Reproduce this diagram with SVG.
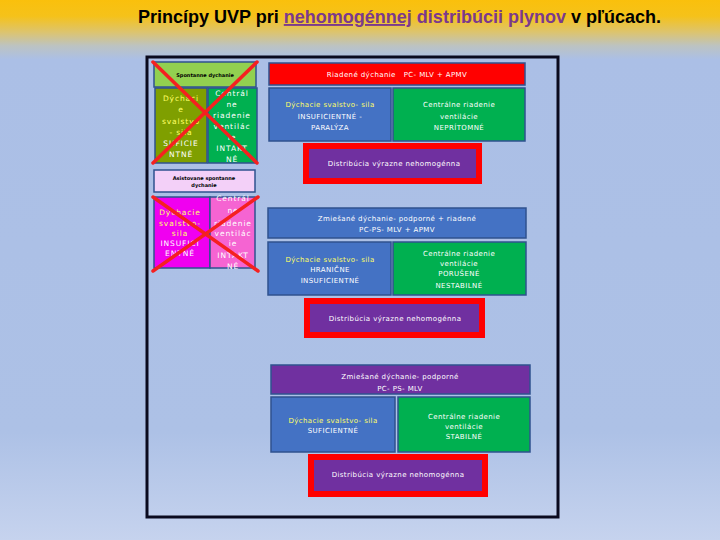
<svg xmlns="http://www.w3.org/2000/svg" width="720" height="540" viewBox="0 0 720 540">
<defs>
<linearGradient id="bg" gradientUnits="userSpaceOnUse" x1="0" y1="0" x2="0" y2="540">
<stop offset="0" stop-color="#FAC00C"/>
<stop offset="0.03" stop-color="#F5C21A"/>
<stop offset="0.06" stop-color="#DCC470"/>
<stop offset="0.085" stop-color="#BCC3C2"/>
<stop offset="0.11" stop-color="#ABBFE6"/>
<stop offset="0.8" stop-color="#ADC1E6"/>
<stop offset="1" stop-color="#C6D3EE"/>
</linearGradient>
<style>
.bx{stroke:#2F528F;stroke-width:1.5}
.red{fill:#FF0000}.blue{fill:#4472C4}.green{fill:#00B050}.purple{fill:#7030A0}
.dist{fill:#7030A0;stroke:#FF0000;stroke-width:6}
.t{font-family:"DejaVu Sans",Verdana,sans-serif;font-size:7px;fill:#FFFFFF;text-anchor:middle;letter-spacing:0.4px}
.tl{font-family:"DejaVu Sans",Verdana,sans-serif;font-size:7.5px;fill:#FFFFFF;text-anchor:middle;letter-spacing:0.9px}
.y{fill:#FFFF66}
.sm{font-family:"DejaVu Sans",Verdana,sans-serif;font-size:5px;font-weight:bold;fill:#000000;text-anchor:middle}
.x{stroke:#F52020;stroke-width:3.5;stroke-linecap:round;fill:none}
</style>
</defs>
<rect x="0" y="0" width="720" height="540" fill="url(#bg)"/>
<text x="138" y="23" textLength="523" lengthAdjust="spacingAndGlyphs" font-family="'Liberation Sans Narrow','Liberation Sans',Arial,sans-serif" font-size="19" font-weight="bold" fill="#000000">Princípy UVP pri <tspan fill="#7B3A8C" text-decoration="underline">nehomogénnej</tspan> <tspan fill="#7B3A8C">distribúcii plynov</tspan> v pľúcach.</text>
<rect id="frame" x="147" y="57" width="411" height="460" fill="none" stroke="#0A0A1E" stroke-width="3"/>

<g id="spontanne">
<rect class="bx" x="154" y="62" width="102" height="25" fill="#92D050"/>
<text class="sm" x="205" y="76.5">Spontanne dychanie</text>
</g>
<g id="spont-svalstvo">
<rect class="bx" x="155" y="88" width="52" height="75" fill="#7F9F00"/>
<text class="tl" x="181"><tspan class="y" x="181" y="101">Dýchaci</tspan><tspan class="y" x="181" y="112">e</tspan><tspan class="y" x="181" y="124">svalstvo</tspan><tspan class="y" x="181" y="135">- sila</tspan><tspan x="181" y="146">SUFICIE</tspan><tspan x="181" y="157">NTNÉ</tspan></text>
</g>
<g id="spont-centralne">
<rect class="bx" x="208" y="88" width="49" height="75" fill="#00B050"/>
<text class="tl" x="232"><tspan x="232" y="96">Centrál</tspan><tspan x="232" y="107">ne</tspan><tspan x="232" y="118">riadenie</tspan><tspan x="232" y="129">ventilác</tspan><tspan x="232" y="140">ie</tspan><tspan x="232" y="151">INTAKT</tspan><tspan x="232" y="162">NÉ</tspan></text>
</g>
<g id="cross1">
<line class="x" x1="153" y1="62" x2="257" y2="163"/>
<line class="x" x1="257" y1="62" x2="153" y2="163"/>
</g>

<g id="asistovane">
<rect class="bx" x="154" y="170" width="101" height="22" fill="#F3D0F8"/>
<text class="sm" x="204"><tspan x="204" y="180">Asistovane spontanne</tspan><tspan x="204" y="187">dychanie</tspan></text>
</g>
<g id="asist-svalstvo">
<rect class="bx" x="154" y="197" width="56" height="71" fill="#F000F0"/>
<text class="tl" x="180"><tspan class="y" x="180" y="215">Dýchacie</tspan><tspan class="y" x="180" y="226">svalstvo-</tspan><tspan class="y" x="180" y="236">sila</tspan><tspan x="180" y="246">INSUFICI</tspan><tspan x="180" y="256">ENTNÉ</tspan></text>
</g>
<g id="asist-centralne">
<rect class="bx" x="210" y="197" width="45" height="71" fill="#F564D2"/>
<text class="tl" x="233"><tspan x="233" y="201">Centrál</tspan><tspan x="233" y="213">ne</tspan><tspan x="233" y="226">riadenie</tspan><tspan x="233" y="236">ventilác</tspan><tspan x="233" y="246">ie</tspan><tspan x="233" y="258">INTAKT</tspan><tspan x="233" y="269">NÉ</tspan></text>
</g>
<g id="cross2">
<line class="x" x1="153" y1="197" x2="258" y2="271"/>
<line class="x" x1="258" y1="197" x2="153" y2="271"/>
</g>

<g id="riadene">
<rect class="bx red" x="269" y="63" width="256" height="22"/>
<text class="t" x="397" y="76.5" xml:space="preserve">Riadené dýchanie   PC- MLV + APMV</text>
</g>
<g id="riad-svalstvo">
<rect class="bx blue" x="269" y="88" width="122" height="53"/>
<text class="t" x="330"><tspan class="y" x="330" y="106.5">Dýchacie svalstvo- sila</tspan><tspan x="330" y="119">INSUFICIENTNÉ -</tspan><tspan x="330" y="130">PARALÝZA</tspan></text>
</g>
<g id="riad-centralne">
<rect class="bx green" x="393" y="88" width="132" height="53"/>
<text class="t" x="459"><tspan x="459" y="106.5">Centrálne riadenie</tspan><tspan x="459" y="118.5">ventilácie</tspan><tspan x="459" y="130">NEPRÍTOMNÉ</tspan></text>
</g>
<g id="riad-distribucia">
<rect class="dist" x="306" y="146" width="173" height="35"/>
<text class="t" x="394" y="166">Distribúcia výrazne nehomogénna</text>
</g>

<g id="zmiesane1">
<rect class="bx blue" x="268" y="208" width="258" height="30"/>
<text class="t" x="397"><tspan x="397" y="221">Zmiešané dýchanie- podporné + riadené</tspan><tspan x="397" y="231.5">PC-PS- MLV + APMV</tspan></text>
</g>
<g id="zm1-svalstvo">
<rect class="bx blue" x="268" y="242" width="123" height="53"/>
<text class="t" x="330"><tspan class="y" x="330" y="261.5">Dýchacie svalstvo- sila</tspan><tspan x="330" y="271.5">HRANIČNE</tspan><tspan x="330" y="282.5">INSUFICIENTNÉ</tspan></text>
</g>
<g id="zm1-centralne">
<rect class="bx green" x="393" y="242" width="133" height="53"/>
<text class="t" x="459"><tspan x="459" y="255.5">Centrálne riadenie</tspan><tspan x="459" y="265.5">ventilácie</tspan><tspan x="459" y="275.5">PORUŠENÉ</tspan><tspan x="459" y="287.5">NESTABILNÉ</tspan></text>
</g>
<g id="zm1-distribucia">
<rect class="dist" x="307" y="301" width="175" height="34"/>
<text class="t" x="395" y="320.5">Distribúcia výrazne nehomogénna</text>
</g>

<g id="zmiesane2">
<rect class="bx purple" x="271" y="365" width="259" height="29"/>
<text class="t" x="400"><tspan x="400" y="378.5">Zmiešané dýchanie- podporné</tspan><tspan x="400" y="390.5">PC- PS- MLV</tspan></text>
</g>
<g id="zm2-svalstvo">
<rect class="bx blue" x="271" y="397" width="124" height="55"/>
<text class="t" x="333"><tspan class="y" x="333" y="422.5">Dýchacie svalstvo- sila</tspan><tspan x="333" y="432.5">SUFICIENTNÉ</tspan></text>
</g>
<g id="zm2-centralne">
<rect class="bx green" x="398" y="397" width="132" height="55"/>
<text class="t" x="464"><tspan x="464" y="418.5">Centrálne riadenie</tspan><tspan x="464" y="428.5">ventilácie</tspan><tspan x="464" y="438.5">STABILNÉ</tspan></text>
</g>
<g id="zm2-distribucia">
<rect class="dist" x="311" y="457" width="174" height="37"/>
<text class="t" x="398" y="476.5">Distribúcia výrazne nehomogénna</text>
</g>
</svg>
